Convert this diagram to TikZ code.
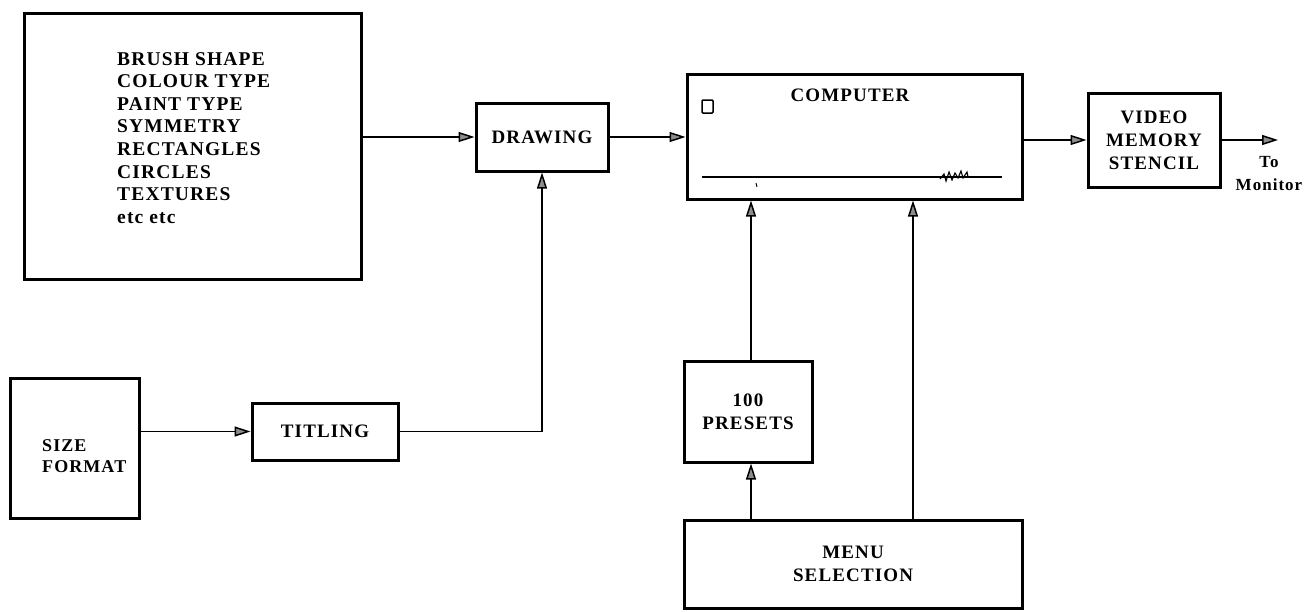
\documentclass[tikz,border=0pt]{standalone}
\usepackage{fontspec}
\setmainfont{Liberation Serif}[LetterSpace=6]
\usetikzlibrary{arrows.meta}
\tikzset{
  box/.style={draw, line width=3pt, inner sep=0pt, align=center, font=\bfseries\fontsize{19}{23}\selectfont},
  lbl/.style={inner sep=0pt, font=\bfseries\fontsize{19}{23}\selectfont},
  conn/.style={line width=1.5pt, -{Triangle[length=16pt,width=10pt,fill=black!45]}},
}
\begin{document}
\begin{tikzpicture}[x=1pt,y=-1pt]
\useasboundingbox[fill=white] (0,0) rectangle (1310,611);
% boxes
\node[box, minimum width=337pt, minimum height=266pt] (opts) at (192.5,146) {};
\node[lbl, align=left, anchor=north west, font=\bfseries\fontsize{19.5}{22.6}\selectfont] (optstxt) at (117,52) {BRUSH SHAPE\\COLOUR TYPE\\PAINT TYPE\\SYMMETRY\\RECTANGLES\\CIRCLES\\TEXTURES\\etc etc};
\node[box, minimum width=132pt, minimum height=68pt] (drw) at (542,137) {DRAWING};
\node[box, minimum width=335pt, minimum height=125pt] (comp) at (854.5,136.5) {};
\node[lbl] (comptxt) at (850,95) {COMPUTER};
\node[box, minimum width=132pt, minimum height=94pt] (vid) at (1154,140) {VIDEO\\MEMORY\\STENCIL};
\node[box, minimum width=129pt, minimum height=140pt] (size) at (74.5,448) {};
\node[lbl, align=left, anchor=west, font=\bfseries\fontsize{18}{21}\selectfont] (sizetxt) at (42,456) {SIZE\\FORMAT};
\node[box, minimum width=146pt, minimum height=57pt] (tit) at (325,431.5) {TITLING};
\node[box, minimum width=128pt, minimum height=101pt] (pre) at (748,411.5) {100\\PRESETS};
\node[box, minimum width=338pt, minimum height=88pt] (menu) at (853,564) {MENU\\SELECTION};
\node[lbl, align=center, font=\bfseries\fontsize{17}{23}\selectfont] (mon) at (1269,174) {To\\Monitor};
\coordinate (out) at (1278,140);
% computer interior
\draw[line width=1.5pt, rounded corners=1pt] (702,100) rectangle (713,113);
\draw[line width=1.5pt] (702,177) -- (1002,177);
\draw[line width=1.1pt] (940,179) -- (944,174) -- (946,181) -- (949,172) -- (952,180) -- (955,173) -- (958,178) -- (961,171) -- (963,178) -- (967,172) -- (968,177);
\draw[line width=0.9pt] (756,183) -- (757,187);
% connectors
\draw[conn] (drw.west -| opts.east) -- (drw.west);
\draw[conn] (drw.east) -- (drw.east -| comp.west);
\draw[conn] (vid.west -| comp.east) -- (vid.west);
\draw[conn] (vid.east) -- (out);
\draw[conn] (tit.west -| size.east) -- (tit.west);
\draw[conn] (tit.east) -| (drw.south);
\draw[conn] ([xshift=3pt]pre.north) -- ([xshift=3pt]pre.north |- comp.south);
\draw[conn] ([xshift=3pt]pre.south |- menu.north) -- ([xshift=3pt]pre.south);
\draw[conn] ([xshift=60pt]menu.north) -- ([xshift=60pt]menu.north |- comp.south);
\end{tikzpicture}
\end{document}
